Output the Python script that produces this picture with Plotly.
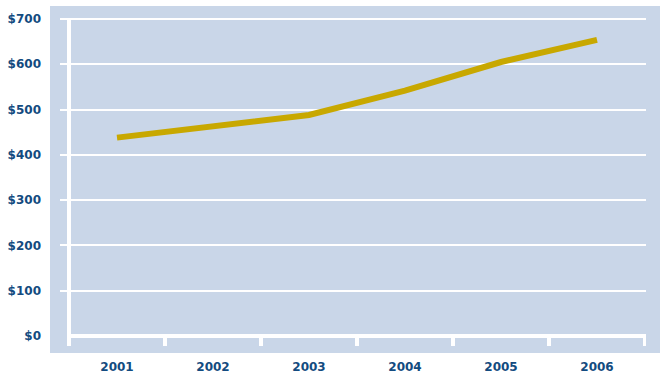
import plotly.graph_objects as go

years = ["2001", "2002", "2003", "2004", "2005", "2006"]
values = [438, 462, 488, 542, 605, 654]
y_tick_vals = [0, 100, 200, 300, 400, 500, 600, 700]
y_tick_text = ["$0", "$100", "$200", "$300", "$400", "$500", "$600", "$700"]

BG = "#C9D6E8"
GOLD = "#C8A800"
TEXT = "#134B80"
FONT = dict(family="DejaVu Sans", size=12, color=TEXT, weight="bold")

xpos = list(range(1, len(years) + 1))
YMAX = 704.4
top_frac = 700 / YMAX
below = -10 / 319

fig = go.Figure()
fig.add_trace(go.Scatter(
    x=xpos, y=values, mode="lines",
    line=dict(color=GOLD, width=6),
    hoverinfo="skip", showlegend=False,
))

shapes = [
    # background panel
    dict(type="rect", xref="paper", yref="paper",
         x0=-0.01706, x1=1.0239, y0=-17 / 319, y1=330 / 319,
         fillcolor=BG, line=dict(width=0), layer="below"),
    # x-axis line
    dict(type="line", xref="x", yref="paper",
         x0=0.5 - 2 / 96, x1=len(years) + 0.5 + 2 / 96, y0=0, y1=0,
         line=dict(color="white", width=4), layer="below"),
    # y-axis line
    dict(type="line", xref="x", yref="paper",
         x0=0.5, x1=0.5, y0=top_frac, y1=below,
         line=dict(color="white", width=4), layer="below"),
]
for k in range(len(years) + 1):
    b = 0.5 + k
    shapes.append(dict(type="line", xref="x", yref="paper",
                       x0=b, x1=b, y0=0, y1=below,
                       line=dict(color="white", width=4), layer="below"))

fig.update_layout(
    width=660, height=373,
    margin=dict(l=60, r=14, t=17, b=37, autoexpand=False),
    paper_bgcolor="white",
    plot_bgcolor="rgba(0,0,0,0)",
    shapes=shapes,
    xaxis=dict(
        range=[0.5 - 9 / 96, len(years) + 0.5 + 1 / 96],
        tickmode="array", tickvals=xpos, ticktext=years,
        showgrid=False, zeroline=False, showline=False, ticks="",
        tickfont=FONT, ticklabelstandoff=22, fixedrange=True,
        automargin=False,
    ),
    yaxis=dict(
        range=[0, YMAX],
        tickmode="array", tickvals=y_tick_vals, ticktext=y_tick_text,
        showgrid=True, gridcolor="white", gridwidth=2,
        zeroline=False, showline=False, ticks="",
        tickfont=FONT, ticklabelstandoff=18, fixedrange=True,
        automargin=False,
    ),
)

fig.write_html("out.html", config={"staticPlot": True},
               post_script="document.body.style.margin='0';document.body.style.overflow='hidden';")
